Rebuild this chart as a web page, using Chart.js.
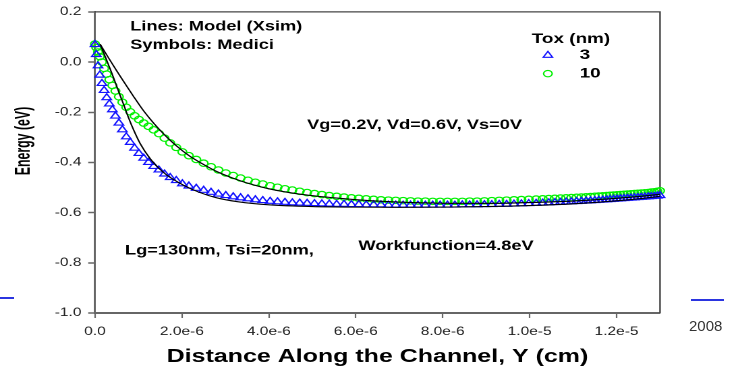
<!DOCTYPE html>
<html>
<head>
<meta charset="utf-8">
<script src="https://cdn.jsdelivr.net/npm/chart.js@4.4.1/dist/chart.umd.min.js"></script>
<style>
  html, body { margin: 0; padding: 0; background: #fff; width: 738px; height: 372px; overflow: hidden; }
  /* the source picture is stretched sideways, so the chart is too */
  #wrap { position: absolute; left: 0; top: 0; width: 547px; height: 372px;
          transform: scaleX(1.34918); transform-origin: 0 0; }
  .rule { position: absolute; height: 2px; background: #2b35e0; }
  #year { position: absolute; left: 689px; top: 317px; font: 15px 'Liberation Sans', Arial, sans-serif; color: #333; }
</style>
</head>
<body>
<div id="wrap"><canvas id="energy-chart" width="547" height="372"></canvas></div>
<div class="rule" style="left:0;top:297px;width:14px"></div>
<div class="rule" style="left:691px;top:299px;width:33px"></div>
<div id="year">2008</div>
<script>
/* ── Data (x in units of 1e-6 cm, y in eV) ───────────────── */
const xTickValues = [0, 2, 4, 6, 8, 10, 12];
const xTickLabels = ['0.0', '2.0e-6', '4.0e-6', '6.0e-6', '8.0e-6', '1.0e-5', '1.2e-5'];
const yTickValues = [-1.0, -0.8, -0.6, -0.4, -0.2, 0.0, 0.2];
const yTickLabels = ['-1.0', '-0.8', '-0.6', '-0.4', '-0.2', '0.0', '0.2'];

const xTitle = 'Distance Along the Channel, Y (cm)';
const yTitle = 'Energy (eV)';
const infoLines = ['Lines: Model (Xsim)', 'Symbols: Medici'];
const biasText = 'Vg=0.2V, Vd=0.6V, Vs=0V';
const geomText = 'Lg=130nm, Tsi=20nm,';
const workText = 'Workfunction=4.8eV';
const legendTitle = 'Tox (nm)';
const toxLabels = ['3', '10'];

// Medici mesh points along the channel
const meshX = [
  0, 0.03, 0.07, 0.11, 0.16, 0.21, 0.27, 0.33, 0.40, 0.47, 0.55, 0.63, 0.72,
  0.81, 0.91, 1.01, 1.12, 1.23, 1.35, 1.47, 1.60, 1.73, 1.87, 2.01, 2.16,
  2.33, 2.50, 2.67, 2.84, 3.01, 3.18, 3.35, 3.52, 3.69, 3.86, 4.03, 4.20,
  4.37, 4.54, 4.71, 4.88, 5.05, 5.22, 5.39, 5.56, 5.73, 5.90, 6.07, 6.24,
  6.41, 6.58, 6.75, 6.92, 7.09, 7.26, 7.43, 7.60, 7.77, 7.94, 8.11, 8.28,
  8.45, 8.62, 8.79, 8.96, 9.13, 9.30, 9.47, 9.64, 9.81, 9.98,
  10.15, 10.30, 10.44, 10.58, 10.71, 10.84, 10.96, 11.08, 11.19, 11.30,
  11.40, 11.50, 11.59, 11.68, 11.77, 11.85, 11.93, 12.01, 12.09, 12.17,
  12.25, 12.33, 12.41, 12.49, 12.57, 12.65, 12.73, 12.80, 12.87, 12.94, 13.00,
];

const mediciTox3 = [
  0.070, 0.030, -0.015, -0.052, -0.085, -0.113, -0.142, -0.167, -0.190, -0.215, -0.243, -0.270, -0.298,
  -0.320, -0.343, -0.364, -0.383, -0.400, -0.416, -0.430, -0.446, -0.460, -0.472, -0.485, -0.494,
  -0.503, -0.511, -0.519, -0.526, -0.532, -0.537, -0.541, -0.545, -0.549, -0.552, -0.555, -0.557,
  -0.559, -0.561, -0.562, -0.563, -0.564, -0.565, -0.566, -0.567, -0.567, -0.568, -0.568, -0.569,
  -0.569, -0.569, -0.570, -0.570, -0.570, -0.570, -0.570, -0.570, -0.570, -0.570, -0.570, -0.570,
  -0.569, -0.569, -0.569, -0.568, -0.568, -0.567, -0.567, -0.566, -0.565, -0.564,
  -0.563, -0.562, -0.561, -0.560, -0.559, -0.558, -0.557, -0.556, -0.555, -0.554,
  -0.553, -0.552, -0.551, -0.550, -0.549, -0.548, -0.547, -0.546, -0.545, -0.544,
  -0.543, -0.542, -0.541, -0.540, -0.539, -0.538, -0.537, -0.536, -0.535, -0.534, -0.532,
];

const mediciTox10 = [
  0.072, 0.058, 0.040, 0.022, 0.000, -0.025, -0.048, -0.070, -0.093, -0.115, -0.138, -0.160, -0.180,
  -0.198, -0.214, -0.229, -0.243, -0.256, -0.270, -0.285, -0.303, -0.322, -0.340, -0.358, -0.373,
  -0.388, -0.403, -0.417, -0.430, -0.442, -0.452, -0.462, -0.471, -0.479, -0.486, -0.493, -0.499,
  -0.505, -0.510, -0.515, -0.520, -0.524, -0.528, -0.532, -0.535, -0.538, -0.541, -0.543, -0.545,
  -0.547, -0.549, -0.550, -0.551, -0.552, -0.553, -0.554, -0.554, -0.555, -0.555, -0.555, -0.555,
  -0.555, -0.554, -0.554, -0.553, -0.552, -0.551, -0.550, -0.549, -0.548, -0.547,
  -0.546, -0.545, -0.544, -0.543, -0.542, -0.541, -0.540, -0.539, -0.538, -0.537,
  -0.536, -0.535, -0.534, -0.533, -0.532, -0.531, -0.530, -0.529, -0.528, -0.527,
  -0.526, -0.525, -0.524, -0.523, -0.522, -0.521, -0.520, -0.518, -0.517, -0.515, -0.513,
];

// Xsim model curves
const modelX3 = [0.12, 0.25, 0.40, 0.55, 0.65, 0.75, 0.85, 1.04, 1.27, 1.50, 1.65, 2.03, 2.40, 2.80,
                 3.30, 4.00, 5.00, 6.00, 7.00, 8.00, 9.00, 10.0, 11.0, 12.0, 12.5, 13.0];
const modelTox3 = [0.071, 0.015, -0.050, -0.120, -0.165, -0.212, -0.255, -0.325, -0.385, -0.428, -0.450,
                   -0.490, -0.519, -0.541, -0.557, -0.569, -0.576, -0.578, -0.579, -0.578, -0.576,
                   -0.572, -0.565, -0.553, -0.545, -0.535];
const modelX10 = [0.12, 0.30, 0.50, 0.65, 0.88, 1.10, 1.27, 1.42, 1.70, 2.00, 2.19, 2.60, 2.80, 3.18,
                  3.50, 4.00, 4.70, 5.50, 6.30, 7.00, 7.80, 8.50, 9.00, 10.0, 11.0, 12.0, 12.5, 13.0];
const modelTox10 = [0.071, 0.020, -0.035, -0.075, -0.135, -0.190, -0.227, -0.257, -0.307, -0.352, -0.376,
                    -0.418, -0.436, -0.463, -0.482, -0.505, -0.526, -0.541, -0.552, -0.558, -0.562,
                    -0.563, -0.563, -0.560, -0.554, -0.543, -0.536, -0.527];

const toPoints = (xs, ys) => xs.map((x, i) => ({ x, y: ys[i] }));

/* ── Look ──────────────────────────────────────────────── */
const FONT = "'Liberation Sans', Arial, Helvetica, sans-serif";
const BLUE = '#1212ff';
const GREEN = '#00f000';
const AXIS = '#666';

/* ── Texts, titles, legend and frame ───────────────────── */
const decorPlugin = {
  id: 'decor',
  beforeDatasetsDraw(chart) {
    const { ctx, chartArea: a } = chart;
    ctx.save();
    ctx.strokeStyle = '#444';
    ctx.lineWidth = 1.2;
    ctx.beginPath();
    ctx.moveTo(a.left, a.top);
    ctx.lineTo(a.right, a.top);
    ctx.lineTo(a.right, a.bottom);
    ctx.stroke();
    ctx.restore();
  },
  afterDraw(chart) {
    const { ctx, chartArea: a, scales: { x, y } } = chart;
    const px = v => x.getPixelForValue(v);
    const py = v => y.getPixelForValue(v);

    ctx.save();
    ctx.fillStyle = '#000';
    ctx.textBaseline = 'middle';
    ctx.textAlign = 'left';
    ctx.font = `bold 13.5px ${FONT}`;
    ctx.fillText(infoLines[0], px(0.81), py(0.140));
    ctx.fillText(infoLines[1], px(0.81), py(0.066));
    ctx.fillText(biasText, px(4.88), py(-0.252));
    ctx.fillText(geomText, px(0.69), py(-0.752));
    ctx.fillText(workText, px(6.06), py(-0.735));

    // legend
    ctx.font = `bold 14px ${FONT}`;
    ctx.fillText(legendTitle, px(10.05), py(0.092));
    ctx.fillText(toxLabels[0], px(11.15), py(0.027));
    ctx.fillText(toxLabels[1], px(11.15), py(-0.047));

    const tx = px(10.42), ty = py(0.027), r = 4;
    ctx.strokeStyle = BLUE;
    ctx.lineWidth = 1.1;
    ctx.beginPath();
    ctx.moveTo(tx, ty - r);
    ctx.lineTo(tx + r * 0.866, ty + r * 0.5);
    ctx.lineTo(tx - r * 0.866, ty + r * 0.5);
    ctx.closePath();
    ctx.stroke();
    ctx.strokeStyle = GREEN;
    ctx.beginPath();
    ctx.arc(px(10.42), py(-0.046), 3.2, 0, Math.PI * 2);
    ctx.stroke();

    // axis titles
    ctx.textAlign = 'center';
    ctx.font = `bold 18.5px ${FONT}`;
    ctx.fillText(xTitle, (a.left + a.right) / 2, 357);

    ctx.translate(17.5, 141);
    ctx.rotate(-Math.PI / 2);
    ctx.scale(0.77, 1);
    ctx.font = `bold 16px ${FONT}`;
    ctx.fillText(yTitle, 0, 0);
    ctx.restore();
  },
};

/* ── Chart ─────────────────────────────────────────────── */
const markerSet = (label, ys, style, color, radius) => ({
  label,
  data: toPoints(meshX, ys),
  showLine: false,
  pointStyle: style,
  pointRadius: radius,
  pointBorderWidth: 1.15,
  pointBorderColor: color,
  pointBackgroundColor: 'rgba(0,0,0,0)',
  clip: false,
  order: 1,
});

const modelSet = (label, xs, ys) => ({
  label,
  data: toPoints(xs, ys),
  showLine: true,
  borderColor: '#000',
  borderWidth: 1.1,
  pointRadius: 0,
  cubicInterpolationMode: 'monotone',
  order: 0,
});

new Chart(document.getElementById('energy-chart'), {
  type: 'scatter',
  data: {
    datasets: [
      modelSet('Model Tox=3', modelX3, modelTox3),
      modelSet('Model Tox=10', modelX10, modelTox10),
      markerSet('Medici Tox=3', mediciTox3, 'triangle', BLUE, 4),
      markerSet('Medici Tox=10', mediciTox10, 'circle', GREEN, 3.2),
    ],
  },
  options: {
    responsive: false,
    animation: false,
    devicePixelRatio: 2,
    layout: { padding: { top: 8, right: 57.8, left: 0, bottom: 0 } },
    plugins: { legend: { display: false }, tooltip: { enabled: false } },
    scales: {
      x: {
        type: 'linear',
        min: 0,
        max: 13,
        afterBuildTicks(scale) { scale.ticks = xTickValues.map(value => ({ value })); },
        afterFit(scale) { scale.height = 59; },
        border: { display: true, color: AXIS, width: 2 },
        grid: { drawOnChartArea: false, drawTicks: true, tickLength: 5, tickColor: AXIS, tickWidth: 1.1 },
        ticks: {
          padding: 7,
          maxRotation: 0,
          color: '#222',
          font: { family: FONT, size: 11.5 },
          callback: v => xTickLabels[xTickValues.indexOf(v)],
        },
      },
      y: {
        type: 'linear',
        min: -1.0,
        max: 0.2,
        afterBuildTicks(scale) { scale.ticks = yTickValues.map(value => ({ value })); },
        afterFit(scale) { scale.width = 70.4; },
        border: { display: true, color: AXIS, width: 1.5 },
        grid: { drawOnChartArea: false, drawTicks: true, tickLength: 5, tickColor: AXIS, tickWidth: 1.5 },
        ticks: {
          padding: 5,
          color: '#222',
          font: { family: FONT, size: 11.5 },
          callback: v => yTickLabels[yTickValues.indexOf(v)],
        },
      },
    },
  },
  plugins: [decorPlugin],
});
</script>
</body>
</html>
